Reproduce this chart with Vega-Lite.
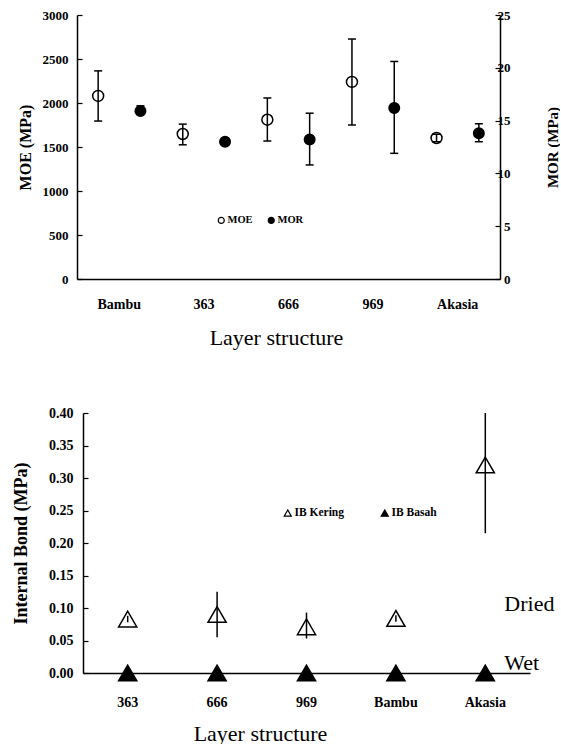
{
  "$schema": "https://vega.github.io/schema/vega-lite/v6.json",
  "padding": {"left": 12, "top": 9, "right": 0, "bottom": 0},
  "align": "none",
  "spacing": 58,
  "datasets": {
    "strength": [
      {"structure": "Bambu", "series": "MOE", "value": 2080, "lo": 1795, "hi": 2365},
      {"structure": "363", "series": "MOE", "value": 1648, "lo": 1525, "hi": 1760},
      {"structure": "666", "series": "MOE", "value": 1810, "lo": 1568, "hi": 2057},
      {"structure": "969", "series": "MOE", "value": 2240, "lo": 1750, "hi": 2727},
      {"structure": "Akasia", "series": "MOE", "value": 1602, "lo": 1560, "hi": 1645},
      {"structure": "Bambu", "series": "MOR", "value": 15.9, "lo": 15.6, "hi": 16.4},
      {"structure": "363", "series": "MOR", "value": 13.0, "lo": 12.7, "hi": 13.3},
      {"structure": "666", "series": "MOR", "value": 13.2, "lo": 10.8, "hi": 15.7},
      {"structure": "969", "series": "MOR", "value": 16.2, "lo": 11.9, "hi": 20.6},
      {"structure": "Akasia", "series": "MOR", "value": 13.8, "lo": 13.0, "hi": 14.7}
    ],
    "ib": [
      {"structure": "363", "series": "IB Kering", "value": 0.083, "lo": 0.078, "hi": 0.088},
      {"structure": "666", "series": "IB Kering", "value": 0.09, "lo": 0.055, "hi": 0.125},
      {"structure": "969", "series": "IB Kering", "value": 0.071, "lo": 0.053, "hi": 0.093},
      {"structure": "Bambu", "series": "IB Kering", "value": 0.084, "lo": 0.079, "hi": 0.089},
      {"structure": "Akasia", "series": "IB Kering", "value": 0.32, "lo": 0.215, "hi": 0.40},
      {"structure": "363", "series": "IB Basah", "value": 0, "lo": 0, "hi": 0},
      {"structure": "666", "series": "IB Basah", "value": 0, "lo": 0, "hi": 0},
      {"structure": "969", "series": "IB Basah", "value": 0, "lo": 0, "hi": 0},
      {"structure": "Bambu", "series": "IB Basah", "value": 0, "lo": 0, "hi": 0},
      {"structure": "Akasia", "series": "IB Basah", "value": 0, "lo": 0, "hi": 0}
    ],
    "notes": [
      {"structure": "Akasia", "value": 0.106, "label": "Dried"},
      {"structure": "Akasia", "value": 0.016, "label": "Wet"}
    ]
  },
  "resolve": {"scale": {"fill": "independent"}, "legend": {"fill": "independent"}},
  "vconcat": [
    {
      "width": 417,
      "height": 264,
      "data": {"name": "strength"},
      "encoding": {
        "x": {
          "field": "structure", "type": "nominal",
          "sort": ["Bambu", "363", "666", "969", "Akasia"],
          "scale": {"paddingInner": 0, "paddingOuter": 0, "range": [-6, 417]},
          "title": "Layer structure",
          "axis": {"labelAngle": 0, "ticks": false, "labelPadding": 18, "labelFontSize": 14, "titleFontSize": 22, "titleFontWeight": "normal", "titlePadding": 16, "titleX": 193, "titleAlign": "center"}
        },
        "xOffset": {"field": "series", "type": "nominal", "scale": {"domain": ["MOE", "MOR"], "paddingInner": 0, "paddingOuter": 0}}
      },
      "layer": [
        {
          "transform": [{"filter": "datum.series === 'MOE'"}],
          "layer": [
            {
              "mark": {"type": "rule", "color": "black", "strokeWidth": 1.5},
              "encoding": {
                "y": {"field": "lo", "type": "quantitative", "title": "MOE (MPa)"},
                "y2": {"field": "hi", "title": "MOE (MPa)"}
              }
            },
            {
              "mark": {"type": "tick", "orient": "horizontal", "size": 8, "thickness": 1.5, "color": "black", "opacity": 1},
              "encoding": {"y": {"field": "lo", "type": "quantitative", "title": "MOE (MPa)"}}
            },
            {
              "mark": {"type": "tick", "orient": "horizontal", "size": 8, "thickness": 1.5, "color": "black", "opacity": 1},
              "encoding": {"y": {"field": "hi", "type": "quantitative", "title": "MOE (MPa)"}}
            },
            {
              "mark": {"type": "point", "filled": true, "size": 120, "stroke": "black", "strokeWidth": 1.5, "opacity": 1},
              "encoding": {
                "y": {
                  "field": "value", "type": "quantitative", "title": "MOE (MPa)",
                  "scale": {"domain": [0, 3000], "nice": false},
                  "axis": {"orient": "left", "offset": 6, "values": [0, 500, 1000, 1500, 2000, 2500, 3000], "tickCount": 7, "format": "d", "labelOverlap": false, "tickSize": -5, "labelPadding": 14, "labelFontSize": 13, "titleFontSize": 16, "titleFontWeight": "bold", "titlePadding": 9}
                },
                "fill": {
                  "field": "series", "type": "nominal",
                  "scale": {"domain": ["MOE", "MOR"], "range": ["transparent", "black"]},
                  "legend": {"title": null, "orient": "none", "legendX": 133, "legendY": 200, "direction": "horizontal", "symbolType": "circle", "symbolSize": 36, "symbolStrokeColor": "black", "symbolStrokeWidth": 1.2, "labelFont": "Liberation Serif", "labelFontWeight": "bold", "labelFontSize": 10.5, "labelColor": "black", "labelOffset": 1, "columnPadding": 12, "padding": 0}
                }
              }
            }
          ]
        },
        {
          "transform": [{"filter": "datum.series === 'MOR'"}],
          "layer": [
            {
              "mark": {"type": "rule", "color": "black", "strokeWidth": 1.5},
              "encoding": {
                "y": {"field": "lo", "type": "quantitative", "title": "MOR (MPa)"},
                "y2": {"field": "hi", "title": "MOR (MPa)"}
              }
            },
            {
              "mark": {"type": "tick", "orient": "horizontal", "size": 8, "thickness": 1.5, "color": "black", "opacity": 1},
              "encoding": {"y": {"field": "lo", "type": "quantitative", "title": "MOR (MPa)"}}
            },
            {
              "mark": {"type": "tick", "orient": "horizontal", "size": 8, "thickness": 1.5, "color": "black", "opacity": 1},
              "encoding": {"y": {"field": "hi", "type": "quantitative", "title": "MOR (MPa)"}}
            },
            {
              "mark": {"type": "point", "filled": true, "size": 110, "stroke": "black", "strokeWidth": 1.5, "opacity": 1},
              "encoding": {
                "y": {
                  "field": "value", "type": "quantitative", "title": "MOR (MPa)",
                  "scale": {"domain": [0, 25], "nice": false},
                  "axis": {"orient": "right", "values": [0, 5, 10, 15, 20, 25], "tickCount": 6, "labelOverlap": false, "tickSize": -5, "labelPadding": 15, "labelAlign": "right", "labelFontSize": 13, "titleFontSize": 15, "titleFontWeight": "bold", "titleAngle": 270, "titleX": 52, "titleY": 132, "titleAlign": "center", "titleBaseline": "middle"}
                },
                "fill": {"field": "series", "type": "nominal"}
              }
            }
          ]
        }
      ],
      "resolve": {"scale": {"y": "independent"}}
    },
    {
      "width": 447,
      "height": 260,
      "encoding": {
        "x": {
          "field": "structure", "type": "nominal",
          "sort": ["363", "666", "969", "Bambu", "Akasia"],
          "scale": {"paddingInner": 0, "paddingOuter": 0},
          "title": "Layer structure",
          "axis": {"labelAngle": 0, "ticks": false, "labelPadding": 22, "labelFontSize": 14, "titleFontSize": 22, "titleFontWeight": "normal", "titlePadding": 14, "titleX": 177, "titleAlign": "center"}
        }
      },
      "layer": [
        {
          "data": {"name": "ib"},
          "transform": [{"filter": "datum.series === 'IB Kering'"}],
          "mark": {"type": "rule", "color": "black", "strokeWidth": 1.5},
          "encoding": {
            "y": {"field": "lo", "type": "quantitative", "title": "Internal Bond (MPa)"},
            "y2": {"field": "hi", "title": "Internal Bond (MPa)"}
          }
        },
        {
          "data": {"name": "ib"},
          "mark": {"type": "point", "shape": "triangle-up", "filled": true, "size": 330, "stroke": "black", "strokeWidth": 1.5, "opacity": 1},
          "encoding": {
            "y": {
              "field": "value", "type": "quantitative", "title": "Internal Bond (MPa)",
              "scale": {"domain": [0, 0.4], "nice": false},
              "axis": {"values": [0, 0.05, 0.1, 0.15, 0.2, 0.25, 0.3, 0.35, 0.4], "tickCount": 9, "format": ".2f", "labelOverlap": false, "tickSize": -5, "labelPadding": 15, "labelFontSize": 14, "titleFontSize": 18, "titleFontWeight": "bold", "titlePadding": 18}
            },
            "fill": {
              "field": "series", "type": "nominal",
              "scale": {"domain": ["IB Kering", "IB Basah"], "range": ["transparent", "black"]},
              "legend": {"title": null, "orient": "none", "legendX": 199, "legendY": 94, "direction": "horizontal", "symbolType": "triangle-up", "symbolSize": 50, "symbolStrokeColor": "black", "symbolStrokeWidth": 1.2, "labelFont": "Liberation Serif", "labelFontWeight": "bold", "labelFontSize": 11.5, "labelColor": "black", "labelOffset": 1, "columnPadding": 33, "padding": 0}
            }
          }
        },
        {
          "data": {"name": "notes"},
          "mark": {"type": "text", "align": "left", "dx": 19, "font": "Liberation Serif", "fontSize": 22, "color": "black"},
          "encoding": {
            "y": {"field": "value", "type": "quantitative", "title": "Internal Bond (MPa)"},
            "text": {"field": "label"}
          }
        }
      ]
    }
  ],
  "config": {
    "view": {"stroke": null},
    "axis": {
      "grid": false,
      "domainColor": "black",
      "domainWidth": 1.5,
      "tickColor": "black",
      "tickWidth": 1.2,
      "labelFont": "Liberation Serif",
      "labelFontWeight": "bold",
      "labelColor": "black",
      "titleFont": "Liberation Serif",
      "titleColor": "black"
    }
  }
}
